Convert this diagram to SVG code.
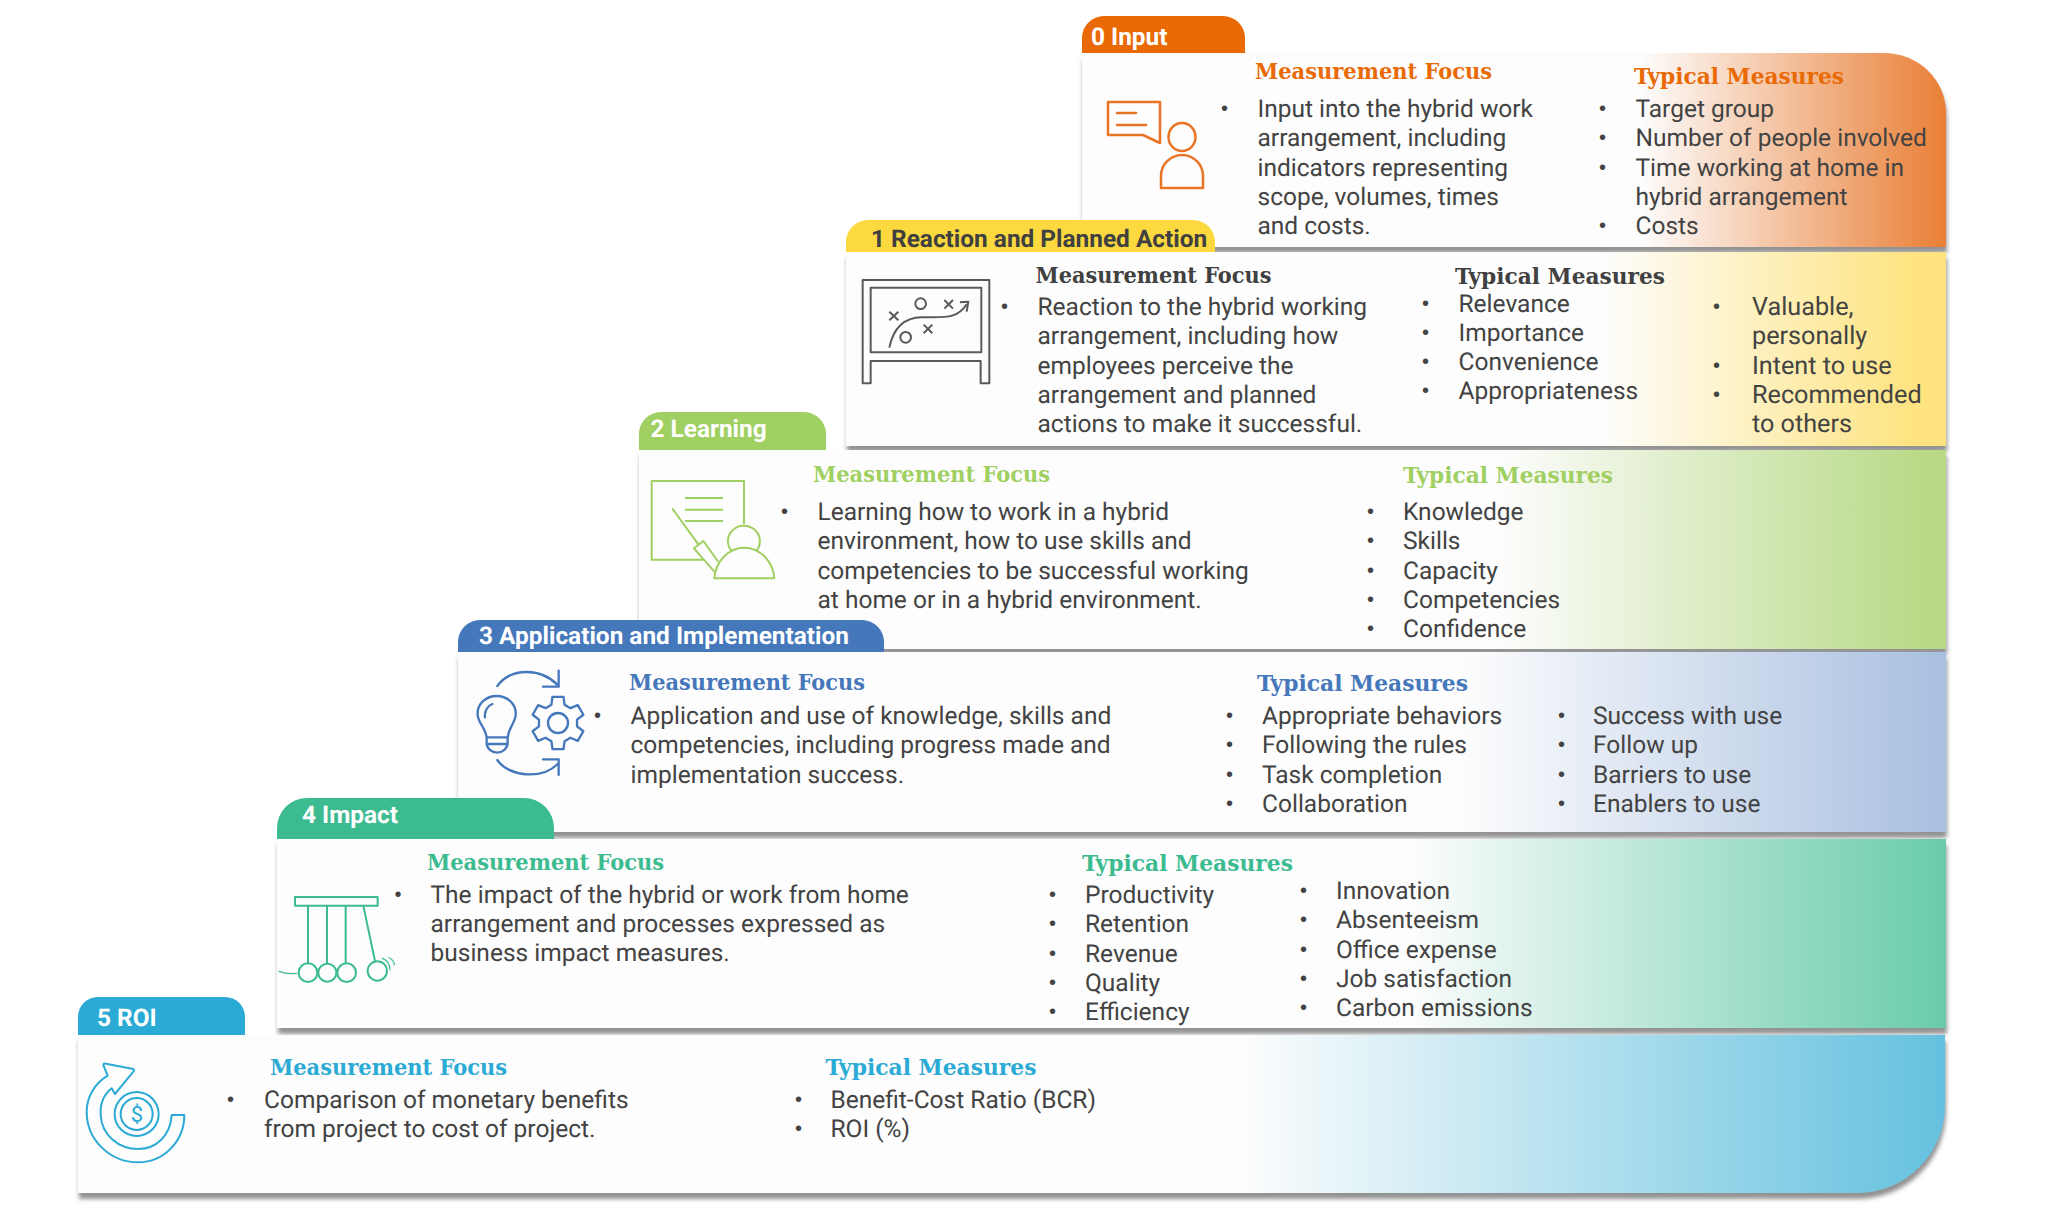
<svg xmlns="http://www.w3.org/2000/svg" width="2048" height="1209" viewBox="0 0 2048 1209">
<style>
.b{font-family:Roboto,"Liberation Sans",sans-serif;font-size:24.5px;fill:#434343;text-rendering:geometricPrecision}
.r{font-size:25.2px}
.d{font-family:"Liberation Sans",sans-serif;font-size:20px;fill:#434343}
.t{font-family:Roboto,"Liberation Sans",sans-serif;font-size:24.4px;font-weight:700;fill:#fff;text-rendering:geometricPrecision}
.h{font-family:"DejaVu Serif Condensed","DejaVu Serif",serif;font-size:23px;font-weight:700}
.i{fill:none;stroke-linejoin:round;stroke-linecap:round}
.p{filter:url(#sh)}
</style>
<defs>
<filter id="sh" x="-5%" y="-10%" width="110%" height="125%"><feDropShadow dx="1" dy="6" stdDeviation="2.2" flood-color="#777" flood-opacity="0.8"/></filter>
<linearGradient id="g0" gradientUnits="userSpaceOnUse" x1="1640" x2="1946" y1="0" y2="0"><stop offset="0" stop-color="#fdfdfd"/><stop offset="1" stop-color="#e97f36"/></linearGradient>
<linearGradient id="g1" gradientUnits="userSpaceOnUse" x1="1600" x2="1920" y1="0" y2="0"><stop offset="0" stop-color="#fdfdfd"/><stop offset="1" stop-color="#fee37e"/></linearGradient>
<linearGradient id="g2" gradientUnits="userSpaceOnUse" x1="1500" x2="1920" y1="0" y2="0"><stop offset="0" stop-color="#fdfdfd"/><stop offset="1" stop-color="#b9da88"/></linearGradient>
<linearGradient id="g3" gradientUnits="userSpaceOnUse" x1="1460" x2="1946" y1="0" y2="0"><stop offset="0" stop-color="#fdfdfd"/><stop offset="1" stop-color="#a8bfe0"/></linearGradient>
<linearGradient id="g4" gradientUnits="userSpaceOnUse" x1="1410" x2="1946" y1="0" y2="0"><stop offset="0" stop-color="#fdfdfd"/><stop offset="1" stop-color="#69cbab"/></linearGradient>
<linearGradient id="g5" gradientUnits="userSpaceOnUse" x1="1240" x2="1946" y1="0" y2="0"><stop offset="0" stop-color="#fdfdfd"/><stop offset="1" stop-color="#64c1df"/></linearGradient>
</defs>
<rect width="2048" height="1209" fill="#fff"/>

<g id="level-0">
<path class="p" d="M1082 53H1884A62 60 0 0 1 1946 113V247H1082Z" fill="url(#g0)"/>
<path d="M1082 53V38A22 22 0 0 1 1104 16H1223A22 22 0 0 1 1245 38V53Z" fill="#e96a05"/>
<text class="t" x="1091" y="45">0 Input</text>
<g class="i" stroke="#ea7425" stroke-width="2.5"><path d="M1108 102H1160V143L1143 135H1108Z"/><path d="M1117 113H1136M1117 125H1146"/><ellipse cx="1182" cy="137" rx="13.5" ry="14"/><path d="M1161 188V176A21 21 0 0 1 1203 176V188Z"/></g>
<text class="h" x="1255" y="79" fill="#e96a05" textLength="237" lengthAdjust="spacingAndGlyphs">Measurement Focus</text>
<text class="h" x="1634" y="84" fill="#e96a05" textLength="210" lengthAdjust="spacingAndGlyphs">Typical Measures</text>
<text class="d" x="1221" y="115">•</text>
<text class="b" x="1257.500" y="117">Input into the hybrid work</text><text class="b" x="1257.500" y="146">arrangement, including</text><text class="b" x="1257.500" y="176">indicators representing</text><text class="b" x="1257.500" y="205">scope, volumes, times</text><text class="b" x="1257.500" y="234">and costs.</text>
<text class="d" x="1599" y="115">•</text><text class="d" x="1599" y="144">•</text><text class="d" x="1599" y="174">•</text><text class="d" x="1599" y="232">•</text>
<text class="b" x="1635.500" y="117">Target group</text><text class="b" x="1635.500" y="146">Number of people involved</text><text class="b" x="1635.500" y="176">Time working at home in</text><text class="b" x="1635.500" y="205">hybrid arrangement</text><text class="b" x="1635.500" y="234">Costs</text>
</g>

<g id="level-1">
<rect class="p" x="846" y="252" width="1100" height="194" fill="url(#g1)"/>
<path d="M846 252V242A22 22 0 0 1 868 220H1193A22 22 0 0 1 1215 242V252Z" fill="#fcd93f"/>
<text class="t" x="871" y="247" style="fill:#404040">1 Reaction and Planned Action</text>
<g transform="translate(850 265) scale(.3333)" class="i" stroke="#595959" stroke-width="6" style="stroke-linecap:butt"><path d="M38 355V45H418V355H392V288H62V355Z"/><rect x="62" y="68" width="332" height="194"/><path d="M118 140L145 166M145 140L118 166M283 105L309 131M309 105L283 131M221 179L247 205M247 179L221 205"/><circle cx="212" cy="116" r="16"/><circle cx="167" cy="217" r="16"/><path d="M118 248C130 190 160 158 215 157C280 155 320 165 350 118M330 112L355 110L350 140"/></g>
<text class="h" x="1035.500" y="283" fill="#404040" textLength="236" lengthAdjust="spacingAndGlyphs">Measurement Focus</text>
<text class="h" x="1455" y="284" fill="#404040" textLength="210" lengthAdjust="spacingAndGlyphs">Typical Measures</text>
<text class="d" x="1001" y="313">•</text>
<text class="b" x="1037.500" y="315">Reaction to the hybrid working</text><text class="b" x="1037.500" y="344">arrangement, including how</text><text class="b" x="1037.500" y="374">employees perceive the</text><text class="b" x="1037.500" y="403">arrangement and planned</text><text class="b" x="1037.500" y="432">actions to make it successful.</text>
<text class="d" x="1422" y="310">•</text><text class="d" x="1422" y="339">•</text><text class="d" x="1422" y="368">•</text><text class="d" x="1422" y="397">•</text>
<text class="b" x="1458.500" y="312">Relevance</text><text class="b" x="1458.500" y="341">Importance</text><text class="b" x="1458.500" y="370">Convenience</text><text class="b" x="1458.500" y="399">Appropriateness</text>
<text class="d" x="1713" y="313">•</text><text class="d" x="1713" y="372">•</text><text class="d" x="1713" y="401">•</text>
<text class="b r" x="1752" y="315">Valuable,</text><text class="b r" x="1752" y="344">personally</text><text class="b r" x="1752" y="374">Intent to use</text><text class="b r" x="1752" y="403">Recommended</text><text class="b r" x="1752" y="432">to others</text>
</g>

<g id="level-2">
<rect class="p" x="639" y="450" width="1307" height="199" fill="url(#g2)"/>
<path d="M639 450V434A22 22 0 0 1 661 412H804A22 22 0 0 1 826 434V450Z" fill="#a0cf62"/>
<text class="t" x="650.500" y="437">2 Learning</text>
<g transform="translate(645 475) scale(.3333)" class="i" stroke="#a0cf62" stroke-width="6"><path d="M297 145V18H20V254H175"/><path d="M122 69H232M122 104H232M122 138H232M83 102L160 208M147 220L175 198L218 258M147 220L208 290"/><path d="M260 228A48 46 0 1 1 335 226"/><path d="M208 310H388C385 260 345 218 298 218C250 218 212 260 208 310Z"/></g>
<text class="h" x="813" y="482" fill="#a0cf62" textLength="237" lengthAdjust="spacingAndGlyphs">Measurement Focus</text>
<text class="h" x="1403" y="483" fill="#a0cf62" textLength="210" lengthAdjust="spacingAndGlyphs">Typical Measures</text>
<text class="d" x="781" y="518">•</text>
<text class="b" x="817.500" y="520">Learning how to work in a hybrid</text><text class="b" x="817.500" y="549">environment, how to use skills and</text><text class="b" x="817.500" y="579">competencies to be successful working</text><text class="b" x="817.500" y="608">at home or in a hybrid environment.</text>
<text class="d" x="1367" y="518">•</text><text class="d" x="1367" y="547">•</text><text class="d" x="1367" y="577">•</text><text class="d" x="1367" y="606">•</text><text class="d" x="1367" y="635">•</text>
<text class="b" x="1403" y="520">Knowledge</text><text class="b" x="1403" y="549">Skills</text><text class="b" x="1403" y="579">Capacity</text><text class="b" x="1403" y="608">Competencies</text><text class="b" x="1403" y="637">Confidence</text>
</g>

<g id="level-3">
<rect class="p" x="458" y="652" width="1488" height="180" fill="url(#g3)"/>
<path d="M458 652V642A22 22 0 0 1 480 620H862A22 22 0 0 1 884 642V652Z" fill="#4577bb"/>
<text class="t" x="479" y="644">3 Application and Implementation</text>
<g transform="translate(465 660) scale(.3333)" class="i" stroke="#4577bb" stroke-width="7"><path d="M97 78C140 20 230 25 278 75M281 32V80H234M97 300C130 350 230 360 278 312M234 298H281V345"/><path d="M65 232C60 200 40 190 38 165C35 130 65 108 95 108C125 108 155 130 152 165C150 190 132 200 128 232ZM65 232V250C65 265 80 278 96 278C112 278 128 265 128 250V232M65 252H128M60 172C58 155 66 138 82 132"/><path d="M259.2 134.5L262.4 110.8H295.6L298.8 134.5L316.3 144.6L338.4 135.500L355.1 164.3L336.1 178.9V199.100L355.1 213.7L338.4 242.5L316.3 233.4L298.8 243.5L295.6 267.2H262.4L259.2 243.5L241.7 233.4L219.6 242.5L202.9 213.7L221.9 199.1V178.9L202.9 164.3L219.6 135.5L241.7 144.6Z"/><circle cx="279" cy="189" r="30"/></g>
<text class="h" x="629" y="690" fill="#4577bb" textLength="236" lengthAdjust="spacingAndGlyphs">Measurement Focus</text>
<text class="h" x="1257" y="691" fill="#4577bb" textLength="211" lengthAdjust="spacingAndGlyphs">Typical Measures</text>
<text class="d" x="594" y="722">•</text>
<text class="b" x="630.500" y="724">Application and use of knowledge, skills and</text><text class="b" x="630.500" y="753">competencies, including progress made and</text><text class="b" x="630.500" y="783">implementation success.</text>
<text class="d" x="1226" y="722">•</text><text class="d" x="1226" y="751">•</text><text class="d" x="1226" y="781">•</text><text class="d" x="1226" y="810">•</text>
<text class="b" x="1262" y="724">Appropriate behaviors</text><text class="b" x="1262" y="753">Following the rules</text><text class="b" x="1262" y="783">Task completion</text><text class="b" x="1262" y="812">Collaboration</text>
<text class="d" x="1558" y="722">•</text><text class="d" x="1558" y="751">•</text><text class="d" x="1558" y="781">•</text><text class="d" x="1558" y="810">•</text>
<text class="b" x="1593" y="724">Success with use</text><text class="b" x="1593" y="753">Follow up</text><text class="b" x="1593" y="783">Barriers to use</text><text class="b" x="1593" y="812">Enablers to use</text>
</g>

<g id="level-4">
<rect class="p" x="277" y="839" width="1669" height="189" fill="url(#g4)"/>
<path d="M277 839V828A30 30 0 0 1 307 798H524A30 30 0 0 1 554 828V839Z" fill="#3dbb90"/>
<text class="t" x="302" y="823">4 Impact</text>
<g transform="translate(275 885) scale(.3333)" class="i" stroke="#3dbb90" stroke-width="6"><rect x="60" y="36" width="248" height="26"/><path d="M99 62V235M156 62V235M212 62V235M265 62L300 228"/><circle cx="99" cy="263" r="28"/><circle cx="157" cy="263" r="27"/><circle cx="215" cy="263" r="28"/><circle cx="307" cy="258" r="29"/><path d="M12 259Q35 268 65 265" stroke-width="4"/><path d="M322 220Q345 228 345 255M342 218Q358 225 358 240" stroke-width="3.500"/></g>
<text class="h" x="427" y="870" fill="#3dbb90" textLength="237" lengthAdjust="spacingAndGlyphs">Measurement Focus</text>
<text class="h" x="1082" y="871" fill="#3dbb90" textLength="211" lengthAdjust="spacingAndGlyphs">Typical Measures</text>
<text class="d" x="394.500" y="901">•</text>
<text class="b" x="430.500" y="903">The impact of the hybrid or work from home</text><text class="b" x="430.500" y="932">arrangement and processes expressed as</text><text class="b" x="430.500" y="961">business impact measures.</text>
<text class="d" x="1049" y="901">•</text><text class="d" x="1049" y="930">•</text><text class="d" x="1049" y="960">•</text><text class="d" x="1049" y="989">•</text><text class="d" x="1049" y="1018">•</text>
<text class="b" x="1085" y="903">Productivity</text><text class="b" x="1085" y="932">Retention</text><text class="b" x="1085" y="962">Revenue</text><text class="b" x="1085" y="991">Quality</text><text class="b" x="1085" y="1020">Efficiency</text>
<text class="d" x="1300" y="897">•</text><text class="d" x="1300" y="926">•</text><text class="d" x="1300" y="956">•</text><text class="d" x="1300" y="985">•</text><text class="d" x="1300" y="1014">•</text>
<text class="b" x="1336" y="899">Innovation</text><text class="b" x="1336" y="928">Absenteeism</text><text class="b" x="1336" y="958">Office expense</text><text class="b" x="1336" y="987">Job satisfaction</text><text class="b" x="1336" y="1016">Carbon emissions</text>
</g>

<g id="level-5">
<path class="p" d="M78 1035H1945V1105A88 88 0 0 1 1857 1193H78Z" fill="url(#g5)"/>
<path d="M78 1035V1017A20 20 0 0 1 98 997H225A20 20 0 0 1 245 1017V1035Z" fill="#2aaad5"/>
<text class="t" x="97" y="1026">5 ROI</text>
<g transform="translate(80 1055) scale(.3333)" class="i" stroke="#2aaad5" stroke-width="6"><path d="M313 180C313 260 250 322 175 322C90 322 20 255 20 170C20 125 45 85 83 62L70 30Q70 24 78 26L160 42Q165 45 160 50L105 117L95 100C70 120 60 150 62 180C65 240 115 282 175 282C230 282 272 240 275 180Z"/><circle cx="170" cy="177" r="66"/><circle cx="170" cy="177" r="48"/></g>
<text x="137" y="1122" text-anchor="middle" style="font-family:Roboto,sans-serif;font-size:22px;fill:#2aaad5">$</text>
<text class="h" x="270" y="1075" fill="#2aaad5" textLength="237" lengthAdjust="spacingAndGlyphs">Measurement Focus</text>
<text class="h" x="825.500" y="1075" fill="#2aaad5" textLength="211" lengthAdjust="spacingAndGlyphs">Typical Measures</text>
<text class="d" x="227" y="1106">•</text>
<text class="b" x="264" y="1108">Comparison of monetary benefits</text><text class="b" x="264" y="1137">from project to cost of project.</text>
<text class="d" x="795" y="1106">•</text><text class="d" x="795" y="1135">•</text>
<text class="b" x="830.500" y="1108">Benefit-Cost Ratio (BCR)</text><text class="b" x="830.500" y="1137">ROI (%)</text>
</g>
</svg>
